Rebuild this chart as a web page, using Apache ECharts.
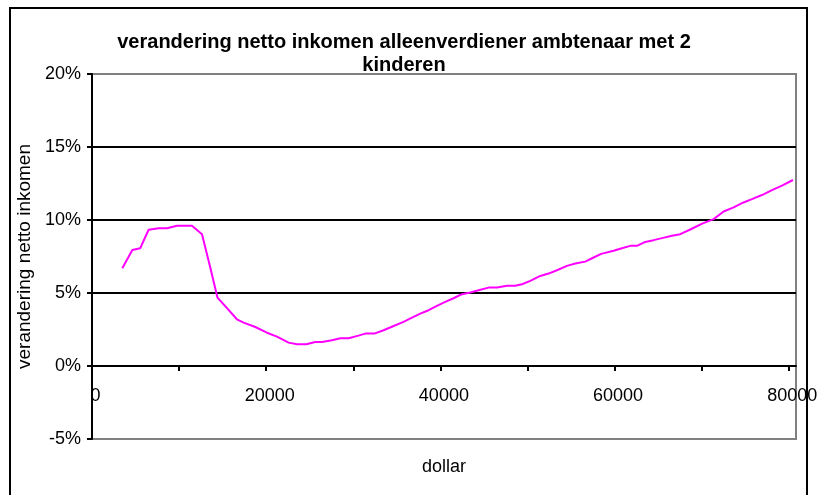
<!DOCTYPE html>
<html>
<head>
<meta charset="utf-8">
<script src="https://cdn.jsdelivr.net/npm/echarts@6/dist/echarts.min.js"></script>
<style>
  html, body { margin: 0; padding: 0; background: #fff; }
  #main { width: 819px; height: 495px; }
</style>
</head>
<body>
<div id="main"></div>
<script>
// income in dollars, change of net income in percent
const income = [
  3480, 4630, 5540, 6500, 7650, 8610, 9760, 10610, 11480, 12630,
  13580, 14410, 15500, 16640, 17410, 18750, 20090, 21240, 22570, 23540,
  24610, 25630, 26410, 27550, 28510, 29460, 30600, 31370, 32410, 33480,
  34630, 35770, 36740, 37690, 38650, 39600, 40560, 41510, 42480, 43440,
  44380, 45530, 46500, 47650, 48600, 49370, 50320, 51470, 52420, 53380,
  54530, 55490, 56630, 57590, 58460, 59890, 60840, 61800, 62570, 63520,
  64470, 65440, 66590, 67540, 68690, 70060, 71370, 72520, 73670, 74800,
  75770, 76920, 78070, 79220, 80480
];
const change = [
  6.70, 7.94, 8.07, 9.33, 9.44, 9.44, 9.60, 9.60, 9.60, 9.03,
  6.74, 4.68, 3.96, 3.20, 2.97, 2.67, 2.28, 2.01, 1.60, 1.49,
  1.49, 1.65, 1.65, 1.76, 1.90, 1.90, 2.08, 2.22, 2.22, 2.45,
  2.74, 3.02, 3.31, 3.59, 3.82, 4.12, 4.39, 4.64, 4.92, 5.03,
  5.19, 5.37, 5.37, 5.49, 5.49, 5.60, 5.83, 6.17, 6.33, 6.56,
  6.86, 7.02, 7.15, 7.43, 7.68, 7.89, 8.07, 8.23, 8.23, 8.50,
  8.62, 8.76, 8.92, 9.03, 9.35, 9.75, 10.06, 10.58, 10.86, 11.20,
  11.43, 11.71, 12.05, 12.35, 12.74
];
const xTicks = [0, 10000, 20000, 30000, 40000, 50000, 60000, 70000, 80000];
const xLabels = [0, 20000, 40000, 60000, 80000];

const font = '"Liberation Sans", Arial, sans-serif';
const chart = echarts.init(document.getElementById('main'));

chart.setOption({
  animation: false,
  backgroundColor: '#fff',
  graphic: [{
    type: 'rect',
    shape: { x: 10, y: 8, width: 797, height: 500 },
    style: { fill: 'none', stroke: '#000', lineWidth: 2 },
    silent: true
  }],
  title: {
    text: 'verandering netto inkomen alleenverdiener ambtenaar met 2\nkinderen',
    left: 404,
    textAlign: 'center',
    top: 31,
    padding: 0,
    textStyle: { fontFamily: font, fontSize: 20, fontWeight: 'bold', color: '#000', lineHeight: 23 }
  },
  grid: {
    left: 92, right: 23, top: 74, bottom: 56,
    outerBoundsMode: 'none',
    containLabel: false,
    show: true, borderColor: '#808080', borderWidth: 2
  },
  xAxis: {
    type: 'value',
    min: 0, max: 80830,
    name: 'dollar',
    nameLocation: 'middle',
    nameGap: 19,
    nameTextStyle: { fontFamily: font, fontSize: 18, color: '#000' },
    axisLine: { onZero: true, lineStyle: { color: '#000', width: 2 } },
    axisTick: { show: true, length: 5, customValues: xTicks, lineStyle: { color: '#000', width: 2 } },
    axisLabel: {
      fontFamily: font, fontSize: 18, color: '#000', margin: -52,
      padding: [0, 0, 0, 7],
      customValues: xLabels,
      formatter: v => String(v)
    },
    splitLine: { show: false }
  },
  yAxis: {
    type: 'value',
    min: -5, max: 20, interval: 5,
    name: 'verandering netto inkomen',
    nameLocation: 'middle',
    nameGap: 58,
    nameTextStyle: { fontFamily: font, fontSize: 19, color: '#000' },
    axisLine: { show: true, lineStyle: { color: '#000', width: 2 } },
    axisTick: { show: true, length: 5, lineStyle: { color: '#000', width: 2 } },
    axisLabel: { fontFamily: font, fontSize: 18, color: '#000', margin: 11, formatter: '{value}%' },
    splitLine: { show: true, lineStyle: { color: ['#808080', '#000', '#000', '#000', '#000', '#808080'], width: 2 } }
  },
  series: [{
    type: 'line',
    data: income.map((x, i) => [x, change[i]]),
    showSymbol: false,
    lineStyle: { color: '#ff00ff', width: 2 },
    itemStyle: { color: '#ff00ff' }
  }]
});
</script>
</body>
</html>
